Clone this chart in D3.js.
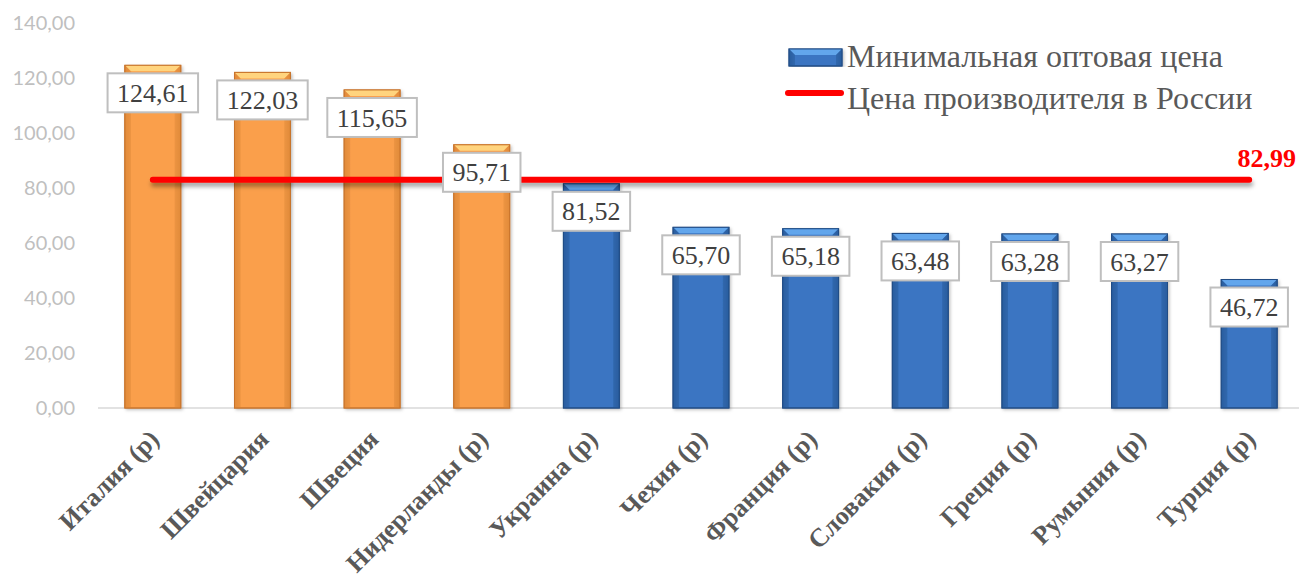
<!DOCTYPE html>
<html><head><meta charset="utf-8">
<script src="https://cdn.jsdelivr.net/npm/d3@7"></script>
<style>body{margin:0;background:#fff}</style>
</head><body><svg id="c" width="1299" height="585"></svg>
<script>
const categories = ["Италия (р)","Швейцария","Швеция","Нидерланды (р)","Украина (р)","Чехия (р)","Франция (р)","Словакия (р)","Греция (р)","Румыния (р)","Турция (р)"];
const minWholesalePrice = [124.61,122.03,115.65,95.71,81.52,65.70,65.18,63.48,63.28,63.27,46.72];
const russiaProducerPrice = 82.99;
const yTicks = [0,20,40,60,80,100,120,140];
const seriesNames = ["Минимальная оптовая цена","Цена производителя в России"];

const svg = d3.select("#c");
const loc = d3.formatLocale({decimal:",", thousands:" ", grouping:[3], currency:["",""]});
const fmt = loc.format(".2f");

const y = d3.scaleLinear().domain([0,140]).range([408,23]);
const x = d3.scaleBand().domain(categories).range([98,1304]).paddingInner(0.49).paddingOuter(0.245);
const bw = x.bandwidth();

const defs = svg.append("defs");
function grad(id, edge, mid){
  const g = defs.append("linearGradient").attr("id",id).attr("x1","0").attr("x2","1").attr("y1","0").attr("y2","0");
  g.append("stop").attr("offset","0").attr("stop-color",edge);
  g.append("stop").attr("offset","0.12").attr("stop-color",mid);
  g.append("stop").attr("offset","0.88").attr("stop-color",mid);
  g.append("stop").attr("offset","1").attr("stop-color",edge);
}
grad("gBlue","#28589a","#3a75c2");
grad("gOrange","#dc8334","#fa9f4c");
const sh = defs.append("filter").attr("id","shadow").attr("filterUnits","userSpaceOnUse")
  .attr("x",0).attr("y",0).attr("width",1299).attr("height",585);
sh.append("feDropShadow").attr("dx",1).attr("dy",4).attr("stdDeviation",2).attr("flood-color","#000").attr("flood-opacity",0.35);
const bsh = defs.append("filter").attr("id","bshadow").attr("x","-20%").attr("y","-5%").attr("width","140%").attr("height","110%");
bsh.append("feDropShadow").attr("dx",1.5).attr("dy",1.5).attr("stdDeviation",1.5).attr("flood-color","#000").attr("flood-opacity",0.25);

const pal = {
  blue:{fill:"url(#gBlue)", top:"#62a6ec", side:"#2c60a2", stroke:"#214c85"},
  orange:{fill:"url(#gOrange)", top:"#ffd47e", side:"#e58f3e", stroke:"#c8742c"}
};

// y tick labels
svg.append("g").selectAll("text").data(yTicks).join("text")
  .attr("x",75).attr("y",d=>y(d)).attr("dy","0.35em")
  .attr("text-anchor","end")
  .attr("font-family","Lato, 'Open Sans', sans-serif").attr("font-size",20)
  .attr("fill","#bfbfbf").text(d=>fmt(d));

// x axis line
svg.append("line").attr("x1",98).attr("x2",1299).attr("y1",y(0)).attr("y2",y(0))
  .attr("stroke","#d9d9d9").attr("stroke-width",1.5);

function bevelBar(g, x0, y0, w, h, p){
  const c = 6;
  g.append("rect").attr("x",x0).attr("y",y0).attr("width",w).attr("height",h)
    .attr("fill",p.fill).attr("stroke",p.stroke).attr("stroke-width",1).attr("filter","url(#bshadow)");
  g.append("polygon").attr("points",[[x0,y0],[x0+w,y0],[x0+w-c,y0+c],[x0+c,y0+c]].map(a=>a.join(",")).join(" "))
    .attr("fill",p.top);
  g.append("polygon").attr("points",[[x0,y0],[x0+c,y0+c],[x0+c,y0+h],[x0,y0+h]].map(a=>a.join(",")).join(" "))
    .attr("fill",p.side).attr("opacity",0.6);
  g.append("polygon").attr("points",[[x0+w,y0],[x0+w-c,y0+c],[x0+w-c,y0+h],[x0+w,y0+h]].map(a=>a.join(",")).join(" "))
    .attr("fill",p.side).attr("opacity",0.6);
  g.append("rect").attr("x",x0).attr("y",y0).attr("width",w).attr("height",h)
    .attr("fill","none").attr("stroke",p.stroke).attr("stroke-width",1);
}

const bars = svg.append("g");
categories.forEach((c,i)=>{
  const v = minWholesalePrice[i];
  const p = v > russiaProducerPrice ? pal.orange : pal.blue;
  bevelBar(bars.append("g"), x(c), y(v), bw, y(0)-y(v), p);
});

// red line
const lineG = svg.append("g");
lineG.append("line")
  .attr("x1",x(categories[0])+bw/2).attr("x2",x(categories[categories.length-1])+bw/2)
  .attr("y1",y(russiaProducerPrice)).attr("y2",y(russiaProducerPrice))
  .attr("stroke","#ff0000").attr("stroke-width",6).attr("stroke-linecap","round")
  .attr("filter","url(#shadow)");
lineG.append("text").attr("x",1296).attr("y",y(russiaProducerPrice)-13)
  .attr("text-anchor","end").attr("font-family","'Liberation Serif', serif").attr("font-weight","bold")
  .attr("font-size",26).attr("fill","#ff0000").text(fmt(russiaProducerPrice));

// data labels
const labG = svg.append("g");
categories.forEach((c,i)=>{
  const v = minWholesalePrice[i];
  const cx = x(c)+bw/2, top = y(v)+8;
  const g = labG.append("g");
  const r = g.append("rect");
  const t = g.append("text").attr("x",cx).attr("y",top+19.5).attr("dy","0.35em")
    .attr("text-anchor","middle").attr("font-family","'Liberation Serif', serif")
    .attr("font-size",26).attr("fill","#404040").text(fmt(v));
  const tw = t.node().getComputedTextLength();
  r.attr("x",cx-tw/2-9.5).attr("y",top).attr("width",tw+19).attr("height",39)
    .attr("fill","#fff").attr("stroke","#bfbfbf").attr("stroke-width",2);
});

// x labels
svg.append("g").selectAll("text").data(categories).join("text")
  .attr("transform",d=>`translate(${x(d)+bw/2-5},428) rotate(-45)`)
  .attr("dy","0.7em").attr("text-anchor","end")
  .attr("font-family","'Liberation Serif', serif").attr("font-weight","bold")
  .attr("font-size",26).attr("fill","#595959").text(d=>d);

// legend
const leg = svg.append("g");
bevelBar(leg, 789, 49, 53, 17, pal.blue);
leg.append("text").attr("x",847).attr("y",67).attr("font-family","'Liberation Serif', serif")
  .attr("font-size",32).attr("fill","#595959").text(seriesNames[0]);
leg.append("line").attr("x1",788).attr("x2",841).attr("y1",93).attr("y2",93)
  .attr("stroke","#ff0000").attr("stroke-width",6).attr("stroke-linecap","round");
leg.append("text").attr("x",847).attr("y",109).attr("font-family","'Liberation Serif', serif")
  .attr("font-size",32).attr("fill","#595959").text(seriesNames[1]);
</script></body></html>
